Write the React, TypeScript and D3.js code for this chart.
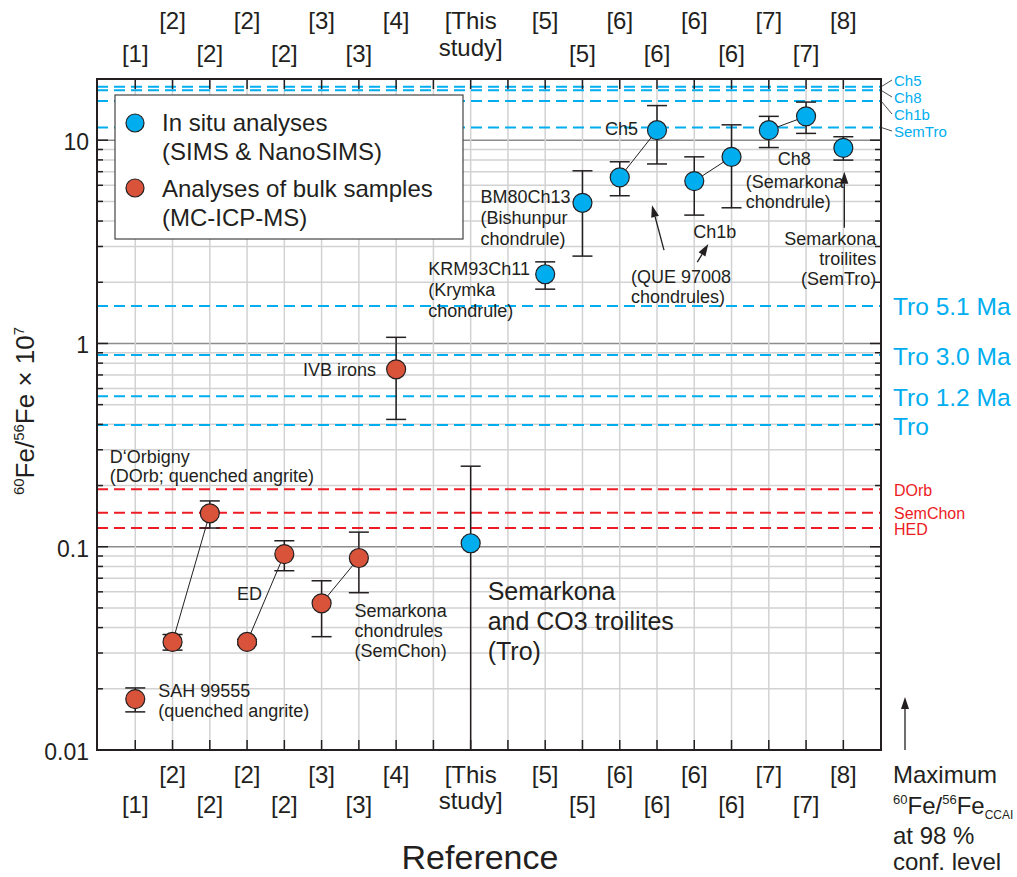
import React from 'react'
import * as d3 from 'd3'

const W = 1017
const H = 877
const FONT = '"Liberation Sans", Arial, Helvetica, sans-serif'
const INK = '#231f20'
const BLUE = '#00aeef'
const RED = '#ed1c24'
const BULK_FILL = '#d9533b'

// reference columns 1..20, labels staggered over two rows
const REF_UPPER_POS = [2, 4, 6, 8, 10, 12, 14, 16, 18, 20]
const REF_UPPER = ['[2]', '[2]', '[3]', '[4]', '[This', '[5]', '[6]', '[6]', '[7]', '[8]']
const REF_LOWER_POS = [1, 3, 5, 7, 10, 13, 15, 17, 19]
const REF_LOWER = ['[1]', '[2]', '[2]', '[3]', 'study]', '[5]', '[6]', '[6]', '[7]']

// analyses of bulk samples (MC-ICP-MS)
const BULK_POS = [1, 2, 3, 4, 5, 6, 7, 8]
const BULK_VAL = [0.0178, 0.034, 0.146, 0.034, 0.092, 0.0527, 0.088, 0.746]
const BULK_LO = [0.0154, 0.031, 0.1236, 0.033, 0.0762, 0.0361, 0.0594, 0.423]
const BULK_HI = [0.0202, 0.037, 0.168, 0.035, 0.107, 0.068, 0.118, 1.072]
const BULK_LINKS = [[1, 2], [3, 4], [5, 6]]

// in situ analyses (SIMS & NanoSIMS)
const INSITU_POS = [10, 12, 13, 14, 15, 16, 17, 18, 19, 20]
const INSITU_VAL = [0.104, 2.19, 4.92, 6.56, 11.2, 6.29, 8.28, 11.2, 13.1, 9.17]
const INSITU_LO = [0.01, 1.85, 2.69, 5.33, 7.64, 4.28, 4.65, 9.2, 10.8, 7.98]
const INSITU_HI = [0.249, 2.52, 7.07, 7.83, 14.8, 8.28, 11.9, 13.1, 15.4, 10.4]
const INSITU_LINKS = [[3, 4], [5, 6], [7, 8]]

// maximum initial 60Fe/56Fe inferred from each group (dashed lines)
const TOP_LINE_VAL = [18.3, 17.6, 15.6, 11.56]
const TOP_LINE_LABEL = ['Ch5', 'Ch8', 'Ch1b', 'SemTro']
const TRO_LINE_VAL = [1.53, 0.877, 0.55, 0.397]
const TRO_LINE_LABEL = ['Tro 5.1 Ma', 'Tro 3.0 Ma', 'Tro 1.2 Ma', 'Tro']
const RED_LINE_VAL = [0.192, 0.147, 0.1236]
const RED_LINE_LABEL = ['DOrb', 'SemChon', 'HED']

const X0 = 97
const X1 = 881
const Y0 = 79
const Y1 = 750

function Arrow({ x1, y1, x2, y2 }: { x1: number; y1: number; x2: number; y2: number }) {
  const a = Math.atan2(y2 - y1, x2 - x1)
  const len = 12
  const hw = 4
  const bx = x2 - len * Math.cos(a)
  const by = y2 - len * Math.sin(a)
  const px = -Math.sin(a) * hw
  const py = Math.cos(a) * hw
  return (
    <g>
      <line x1={x1} y1={y1} x2={bx} y2={by} stroke={INK} strokeWidth={1.3} />
      <polygon points={`${x2},${y2} ${bx + px},${by + py} ${bx - px},${by - py}`} fill={INK} />
    </g>
  )
}

function Lines({ x, y, lines, dy, anchor = 'start', size = 18 }: any) {
  return (
    <text x={x} y={y} fontSize={size} fill={INK} textAnchor={anchor}>
      {lines.map((l: string, i: number) => (
        <tspan key={i} x={x} dy={i === 0 ? 0 : dy}>{l}</tspan>
      ))}
    </text>
  )
}

export default function App() {
  const x = d3.scaleLinear().domain([0, 21]).range([98, 880.6])
  const y = d3.scaleLog().domain([0.01, 20]).range([Y1, Y0])
  const yTicks = y.ticks()
  const isMajor = (v: number) => Math.abs(Math.log10(v) - Math.round(Math.log10(v))) < 1e-6
  const cols = d3.range(1, 21)

  const errorBar = (pos: number, lo: number, hi: number, key: string) => {
    const cx = x(pos)
    const yl = y(Math.max(lo, 0.01))
    const yh = y(hi)
    return (
      <g key={key} stroke={INK} strokeWidth={1.5}>
        <line x1={cx} x2={cx} y1={yl} y2={yh} />
        <line x1={cx - 10} x2={cx + 10} y1={yh} y2={yh} />
        {lo > 0.01 && <line x1={cx - 10} x2={cx + 10} y1={yl} y2={yl} />}
      </g>
    )
  }

  const p = (pos: number, val: number) => [x(pos), y(val)]
  const [sahX, sahY] = p(BULK_POS[0], BULK_VAL[0])
  const [dorX, dorY] = p(BULK_POS[2], BULK_VAL[2])
  const [edX, edY] = p(BULK_POS[3], BULK_VAL[3])
  const [scX, scY] = p(BULK_POS[5], BULK_VAL[5])
  const [ivX, ivY] = p(BULK_POS[7], BULK_VAL[7])
  const [troX, troY] = p(INSITU_POS[0], INSITU_VAL[0])
  const [krX, krY] = p(INSITU_POS[1], INSITU_VAL[1])
  const [bmX, bmY] = p(INSITU_POS[2], INSITU_VAL[2])
  const [c5X, c5Y] = p(INSITU_POS[4], INSITU_VAL[4])
  const [c1X, c1Y] = p(INSITU_POS[5], INSITU_VAL[5])
  const [c8X, c8Y] = p(INSITU_POS[7], INSITU_VAL[7])
  const [stX, stY] = p(INSITU_POS[9], INSITU_VAL[9])

  return (
    <svg width={W} height={H} style={{ position: 'absolute', left: 0, top: 0, background: '#fff' }}
      fontFamily={FONT}>
      {/* grid */}
      {yTicks.map((v, i) => (
        <line key={`hg${i}`} x1={X0} x2={X1} y1={y(v)} y2={y(v)}
          stroke={isMajor(v) ? '#8c8c8c' : '#d2d2d2'} strokeWidth={1.5} />
      ))}
      {cols.map(c => (
        <line key={`vg${c}`} x1={x(c)} x2={x(c)} y1={Y0} y2={Y1} stroke="#d2d2d2" strokeWidth={1.5} />
      ))}

      {/* dashed reference lines */}
      {TOP_LINE_VAL.map((v, i) => (
        <g key={`tl${i}`}>
          <line x1={X0} x2={X1} y1={y(v)} y2={y(v)} stroke={BLUE} strokeWidth={2} strokeDasharray="11,6" />
          <line x1={X1} x2={X1 + 11} y1={y(v)} y2={80 + i * 17} stroke={INK} strokeWidth={0.8} />
          <text x={X1 + 13} y={80 + i * 17} fontSize={15} fill={BLUE} dominantBaseline="central">{TOP_LINE_LABEL[i]}</text>
        </g>
      ))}
      {TRO_LINE_VAL.map((v, i) => (
        <g key={`tr${i}`}>
          <line x1={X0} x2={X1} y1={y(v)} y2={y(v)} stroke={BLUE} strokeWidth={2} strokeDasharray="11,6" />
          <text x={X1 + 12} y={y(v) + 1} fontSize={24.5} fill={BLUE} dominantBaseline="central">{TRO_LINE_LABEL[i]}</text>
        </g>
      ))}
      {RED_LINE_VAL.map((v, i) => (
        <g key={`rl${i}`}>
          <line x1={X0} x2={X1} y1={y(v)} y2={y(v)} stroke={RED} strokeWidth={2} strokeDasharray="11,6" />
          <text x={X1 + 13} y={y(v) + 1} fontSize={16} fill={RED} dominantBaseline="central">{RED_LINE_LABEL[i]}</text>
        </g>
      ))}

      {/* frame and ticks */}
      <rect x={X0} y={Y0} width={X1 - X0} height={Y1 - Y0} fill="none" stroke={INK} strokeWidth={2} />
      {cols.map(c => (
        <g key={`xt${c}`} stroke={INK} strokeWidth={1.5}>
          <line x1={x(c)} x2={x(c)} y1={Y0} y2={Y0 + 10} />
          <line x1={x(c)} x2={x(c)} y1={Y1} y2={Y1 - 10} />
        </g>
      ))}
      {yTicks.map((v, i) => {
        const len = isMajor(v) ? 11 : 6
        return (
          <g key={`yt${i}`} stroke={INK} strokeWidth={1.5}>
            <line x1={X0} x2={X0 + len} y1={y(v)} y2={y(v)} />
            <line x1={X1} x2={X1 - len} y1={y(v)} y2={y(v)} />
          </g>
        )
      })}
      {yTicks.filter(isMajor).map((v, i) => (
        <text key={`yl${i}`} x={89} y={y(v) + 2} fontSize={23} fill={INK} textAnchor="end" dominantBaseline="central">
          {d3.format('~g')(v)}
        </text>
      ))}

      {/* reference labels top and bottom */}
      {REF_UPPER.map((t, i) => (
        <g key={`ru${i}`} fontSize={24} fill={INK} textAnchor="middle">
          <text x={x(REF_UPPER_POS[i])} y={29}>{t}</text>
          <text x={x(REF_UPPER_POS[i])} y={783}>{t}</text>
        </g>
      ))}
      {REF_LOWER.map((t, i) => {
        const study = t === 'study]'
        return (
          <g key={`rl${i}`} fontSize={24} fill={INK} textAnchor="middle">
            <text x={x(REF_LOWER_POS[i])} y={study ? 56 : 62}>{t}</text>
            <text x={x(REF_LOWER_POS[i])} y={study ? 809 : 813}>{t}</text>
          </g>
        )
      })}

      {/* axis titles */}
      <text transform="translate(34,411) rotate(-90)" textAnchor="middle" fontSize={26} fill={INK}>
        <tspan fontSize={15} dy={-10}>60</tspan>
        <tspan dy={10}>Fe/</tspan>
        <tspan fontSize={15} dy={-10}>56</tspan>
        <tspan dy={10}>Fe × 10</tspan>
        <tspan fontSize={15} dy={-10}>7</tspan>
      </text>
      <text x={480} y={869} fontSize={34} fill={INK} textAnchor="middle">Reference</text>

      {/* legend */}
      <rect x={115} y={95} width={348} height={144} fill="#fff" stroke="#444" strokeWidth={1.2} />
      <circle cx={135} cy={123} r={9} fill={BLUE} stroke={INK} strokeWidth={1.2} />
      <circle cx={135} cy={188} r={9} fill={BULK_FILL} stroke={INK} strokeWidth={1.2} />
      <Lines x={162} y={131} lines={['In situ analyses', '(SIMS & NanoSIMS)']} dy={29} size={24} />
      <Lines x={162} y={197} lines={['Analyses of bulk samples', '(MC-ICP-MS)']} dy={29} size={24} />

      {/* connectors */}
      {BULK_LINKS.map(([a, b], i) => (
        <line key={`bl${i}`} x1={x(BULK_POS[a])} y1={y(BULK_VAL[a])} x2={x(BULK_POS[b])} y2={y(BULK_VAL[b])}
          stroke={INK} strokeWidth={1} />
      ))}
      {INSITU_LINKS.map(([a, b], i) => (
        <line key={`il${i}`} x1={x(INSITU_POS[a])} y1={y(INSITU_VAL[a])} x2={x(INSITU_POS[b])} y2={y(INSITU_VAL[b])}
          stroke={INK} strokeWidth={1} />
      ))}

      {/* error bars */}
      {BULK_POS.map((pos, i) => errorBar(pos, BULK_LO[i], BULK_HI[i], `be${i}`))}
      {INSITU_POS.map((pos, i) => errorBar(pos, INSITU_LO[i], INSITU_HI[i], `ie${i}`))}

      {/* points */}
      {BULK_POS.map((pos, i) => (
        <circle key={`bp${i}`} cx={x(pos)} cy={y(BULK_VAL[i])} r={9.5} fill={BULK_FILL} stroke={INK} strokeWidth={1.2} />
      ))}
      {INSITU_POS.map((pos, i) => (
        <circle key={`ip${i}`} cx={x(pos)} cy={y(INSITU_VAL[i])} r={9.5} fill={BLUE} stroke={INK} strokeWidth={1.2} />
      ))}

      {/* annotations */}
      <Lines x={sahX + 23} y={sahY - 2} lines={['SAH 99555', '(quenched angrite)']} dy={20} />
      <Lines x={dorX - 100} y={dorY - 50} lines={['D‘Orbigny', '(DOrb; quenched angrite)']} dy={19} />
      <Lines x={edX - 10} y={edY - 42} lines={['ED']} dy={20} />
      <Lines x={scX + 33} y={scY + 14} lines={['Semarkona', 'chondrules', '(SemChon)']} dy={20} />
      <Lines x={ivX - 20} y={ivY + 7} lines={['IVB irons']} dy={20} anchor="end" />
      <Lines x={troX + 17} y={troY + 57} lines={['Semarkona', 'and CO3 troilites', '(Tro)']} dy={30} size={25} />
      <Lines x={krX - 117} y={krY + 1} lines={['KRM93Ch11', '(Krymka', 'chondrule)']} dy={21} />
      <Lines x={bmX - 102} y={bmY} lines={['BM80Ch13', '(Bishunpur', 'chondrule)']} dy={21} />
      <Lines x={c5X - 19} y={c5Y + 5} lines={['Ch5']} dy={20} anchor="end" />
      <Lines x={c5X - 26} y={c5Y + 153} lines={['(QUE 97008', 'chondrules)']} dy={20} />
      <Arrow x1={c5X + 7} y1={c5Y + 120} x2={c5X - 5} y2={c5Y + 75} />
      <Lines x={c1X - 1} y={c1Y + 57} lines={['Ch1b']} dy={20} />
      <Arrow x1={c1X + 3} y1={c1Y + 81} x2={c1X + 14} y2={c1Y + 63} />
      <Lines x={c8X + 9} y={c8Y + 35} lines={['Ch8']} dy={20} />
      <Lines x={c8X - 23} y={c8Y + 58} lines={['(Semarkona', 'chondrule)']} dy={20} />
      <Lines x={stX + 33} y={stY + 97} lines={['Semarkona', 'troilites', '(SemTro)']} dy={20} anchor="end" />
      <Arrow x1={stX + 1} y1={stY + 80} x2={stX + 1} y2={stY + 24} />

      {/* maximum CCAI note */}
      <Arrow x1={X1 + 24} y1={Y1} x2={X1 + 24} y2={697} />
      <text x={893} y={783} fontSize={24} fill={INK}>Maximum</text>
      <text x={893} y={814} fontSize={24} fill={INK}>
        <tspan fontSize={13} dy={-10}>60</tspan>
        <tspan dy={10}>Fe/</tspan>
        <tspan fontSize={13} dy={-10}>56</tspan>
        <tspan dy={10}>Fe</tspan>
        <tspan fontSize={12} dy={5}>CCAI</tspan>
      </text>
      <text x={893} y={844} fontSize={24} fill={INK}>at 98 %</text>
      <text x={893} y={870} fontSize={24} fill={INK}>conf. level</text>
    </svg>
  )
}
